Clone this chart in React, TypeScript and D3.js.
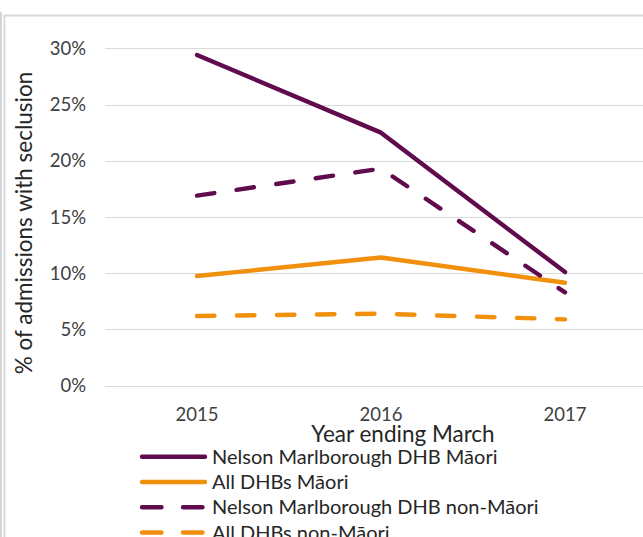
import React, { useEffect, useRef } from 'react';
import * as d3 from 'd3';

const years = ['2015', '2016', '2017'];
const yTicks = [0, 0.05, 0.1, 0.15, 0.2, 0.25, 0.3];

const nmMaori = [0.294, 0.225, 0.101];
const allMaori = [0.0975, 0.114, 0.0915];
const nmNonMaori = [0.169, 0.193, 0.083];
const allNonMaori = [0.062, 0.064, 0.059];

const PURPLE = '#5f0b4e';
const ORANGE = '#f0900c';
const FONT = 'Lato, "Open Sans", sans-serif';

const series = [
  { name: 'Nelson Marlborough DHB Māori', values: nmMaori, color: PURPLE, dashed: false },
  { name: 'All DHBs Māori', values: allMaori, color: ORANGE, dashed: false },
  { name: 'Nelson Marlborough DHB non-Māori', values: nmNonMaori, color: PURPLE, dashed: true },
  { name: 'All DHBs non-Māori', values: allNonMaori, color: ORANGE, dashed: true },
];

const dims = { width: 643, height: 537, left: 105, right: 657, top: 48.3, bottom: 385.7 };

function drawFrame(svg) {
  svg.append('rect')
    .attr('x', 0).attr('y', 12).attr('width', 2).attr('height', 540)
    .attr('fill', '#d4d4d4');
  svg.append('rect')
    .attr('x', 4.5).attr('y', 15.5).attr('width', 700).attr('height', 600)
    .attr('fill', 'white')
    .attr('stroke', '#d9d9d9')
    .attr('stroke-width', 2);
}

function drawGrid(svg, y) {
  svg.append('g')
    .selectAll('line')
    .data(yTicks)
    .enter().append('line')
    .attr('x1', dims.left).attr('x2', dims.right)
    .attr('y1', d => Math.round(y(d)) + 0.5)
    .attr('y2', d => Math.round(y(d)) + 0.5)
    .attr('stroke', '#d9d9d9')
    .attr('stroke-width', 1.2);

  svg.append('g')
    .selectAll('text')
    .data(yTicks)
    .enter().append('text')
    .attr('x', 86)
    .attr('y', d => y(d))
    .attr('dy', '0.36em')
    .attr('text-anchor', 'end')
    .style('font-family', FONT)
    .style('font-size', '18.5px')
    .attr('fill', '#404040')
    .text(d => d3.format('.0%')(d));
}

function drawAxisX(svg, x) {
  svg.append('g')
    .selectAll('text')
    .data(years)
    .enter().append('text')
    .attr('x', d => x(d))
    .attr('y', 421)
    .attr('text-anchor', 'middle')
    .style('font-family', FONT)
    .style('font-size', '18.5px')
    .attr('fill', '#404040')
    .text(d => d);

  // axis titles
  svg.append('text')
    .attr('x', 403)
    .attr('y', 442)
    .attr('text-anchor', 'middle')
    .style('font-family', FONT)
    .style('font-size', '22.5px')
    .attr('fill', '#262626')
    .text('Year ending March');

  svg.append('text')
    .attr('transform', 'translate(32,223) rotate(-90)')
    .attr('text-anchor', 'middle')
    .style('font-family', FONT)
    .style('font-size', '22.5px')
    .attr('fill', '#262626')
    .text('% of admissions with seclusion');
}

function drawLines(svg, x, y) {
  const line = d3.line()
    .x((d, i) => x(years[i]))
    .y(d => y(d));

  series.forEach(s => {
    svg.append('path')
      .datum(s.values)
      .attr('d', line)
      .attr('fill', 'none')
      .attr('stroke', s.color)
      .attr('stroke-width', 4.4)
      .attr('stroke-linecap', 'round')
      .attr('stroke-linejoin', 'round')
      .attr('stroke-dasharray', s.dashed ? '17.5,22.5' : null);
  });
}

function drawLegend(svg) {
  const rows = d3.scaleLinear().domain([0, 3]).range([456.7, 532.5]);
  const g = svg.append('g')
    .selectAll('g')
    .data(series)
    .enter().append('g')
    .attr('transform', (d, i) => `translate(0,${rows(i)})`);

  g.append('line')
    .attr('x1', 142).attr('x2', 205)
    .attr('y1', 0).attr('y2', 0)
    .attr('stroke', d => d.color)
    .attr('stroke-width', 4.4)
    .attr('stroke-linecap', 'round')
    .attr('stroke-dasharray', d => d.dashed ? '19.5,21.5' : null);

  g.append('text')
    .attr('x', 212)
    .attr('y', 0)
    .attr('dy', '0.36em')
    .style('font-family', FONT)
    .style('font-size', '20px')
    .attr('fill', '#262626')
    .text(d => d.name);
}

function draw(node) {
  const svg = d3.select(node);
  svg.selectAll('*').remove();

  const x = d3.scalePoint().domain(years).range([dims.left, dims.right]).padding(0.5);
  const y = d3.scaleLinear().domain([0, 0.3]).range([dims.bottom, dims.top]);

  drawFrame(svg);
  drawGrid(svg, y);
  drawAxisX(svg, x);
  drawLines(svg, x, y);
  drawLegend(svg);
}

export default function App() {
  const ref = useRef(null);

  useEffect(() => {
    draw(ref.current);
  }, []);

  return (
    <svg
      ref={ref}
      width={dims.width}
      height={dims.height}
      style={{ position: 'absolute', left: 0, top: 0, background: 'white' }}
    />
  );
}
